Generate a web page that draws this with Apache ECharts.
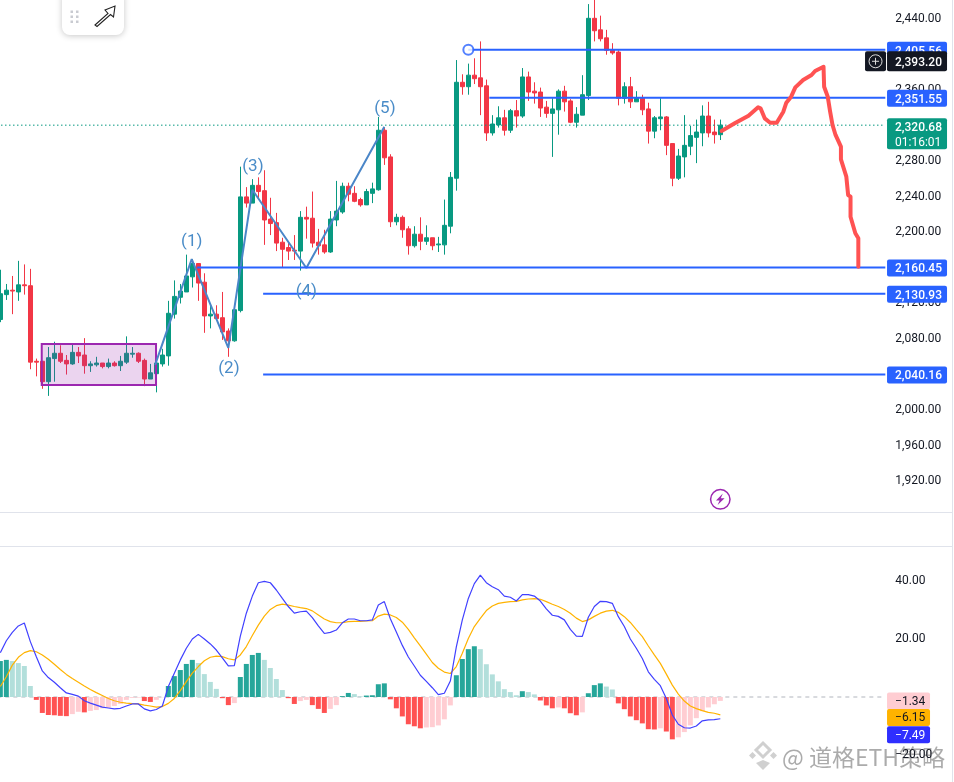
<!DOCTYPE html>
<html>
<head>
<meta charset="utf-8">
<style>html,body{margin:0;padding:0;background:#fff}#c{width:954px;height:782px}</style>
<script src="https://cdn.jsdelivr.net/npm/echarts@6/dist/echarts.min.js"></script>
</head>
<body>
<div id="c"></div>
<script>
const slots = 148;
const opens = [2102,2130,2135,2133,2141,2140,2055,2055,2032,2058,
2064,2056,2052,2065,2062,2050,2051,2053,2049,2053,
2050,2054,2063,2064,2056,2035,2041,2052,2061,2108,
2127,2133,2150,2165,2144,2106,2108,2104,2089,2078,
2112,2240,2233,2253,2247,2215,2211,2189,2183,2180,
2179,2217,2216,2189,2186,2178,2214,2223,2252,2244,
2237,2231,2244,2248,2315,2285,2212,2217,2204,2185,
2198,2190,2194,2186,2186,2207,2261,2369,2364,2377,
2374,2365,2312,2321,2329,2315,2337,2331,2375,2359,
2358,2341,2334,2338,2359,2348,2324,2332,2354,2441,
2428,2419,2405,2403,2351,2364,2347,2351,2339,2314,
2328,2330,2300,2261,2285,2297,2307,2312,2331,2313,2310];
const closes = [2131,2135,2134,2141,2140,2054,2054,2032,2059,2064,
2055,2052,2065,2061,2050,2052,2053,2049,2053,2050,
2055,2064,2064,2055,2035,2042,2053,2062,2109,2128,
2134,2151,2165,2143,2106,2108,2103,2088,2078,2113,
2240,2233,2253,2246,2214,2210,2188,2181,2179,2179,
2217,2215,2188,2185,2178,2215,2224,2252,2243,2235,
2231,2246,2249,2315,2284,2212,2217,2203,2185,2198,
2190,2194,2185,2187,2208,2262,2369,2364,2377,2373,
2364,2312,2322,2329,2315,2337,2331,2375,2358,2357,
2340,2334,2339,2359,2347,2324,2333,2355,2441,2427,
2418,2405,2402,2351,2364,2347,2351,2338,2314,2329,
2330,2298,2261,2286,2298,2309,2313,2331,2312,2310,2320.68];
const lows = [2099,2124,2108,2123,2130,2046,2038,2024,2016,2032,
2053,2040,2051,2053,2041,2043,2049,2047,2047,2049,
2044,2052,2059,2053,2027,2035,2020,2049,2050,2103,
2120,2133,2138,2123,2087,2092,2102,2079,2060,2077,
2110,2228,2233,2237,2186,2197,2179,2161,2169,2169,
2157,2193,2183,2175,2176,2177,2207,2221,2235,2234,
2229,2231,2233,2247,2276,2206,2208,2194,2175,2183,
2180,2186,2180,2178,2175,2199,2247,2355,2355,2367,
2332,2303,2309,2318,2309,2312,2318,2329,2348,2345,
2330,2329,2285,2310,2336,2323,2318,2332,2349,2415,
2415,2400,2400,2343,2345,2340,2347,2332,2300,2306,
2315,2287,2252,2259,2262,2287,2278,2297,2307,2300,2304];
const highs = [2158,2142,2151,2168,2164,2159,2058,2055,2071,2077,
2073,2062,2074,2071,2081,2055,2060,2053,2058,2055,
2061,2083,2071,2065,2058,2052,2068,2069,2123,2146,
2142,2175,2170,2165,2154,2118,2118,2133,2092,2113,
2274,2251,2260,2262,2270,2239,2222,2194,2188,2197,
2224,2229,2246,2204,2203,2224,2258,2256,2256,2252,
2239,2249,2256,2330,2318,2288,2221,2219,2207,2207,
2217,2208,2194,2195,2237,2268,2394,2378,2390,2396,
2415,2372,2332,2342,2338,2339,2349,2385,2381,2369,
2363,2348,2351,2361,2365,2350,2341,2377,2457,2466,
2444,2428,2413,2405,2369,2375,2359,2355,2346,2331,
2351,2331,2300,2294,2332,2320,2327,2343,2347,2327,2327];

const histogram = [12.4,12.8,12.4,11.7,10.7,3.8,-1.0,-5.5,-6.2,-6.3,
-6.5,-6.6,-5.9,-5.1,-5.3,-4.8,-4.5,-3.9,-3.7,-3.1,
-2.4,-1.0,-0.3,-0.2,-1.4,-1.7,-1.0,-0.1,3.8,7.2,
9.3,11.4,12.8,11.7,7.9,5.2,2.8,-0.4,-2.8,-2.1,
6.9,11.4,14.5,15.2,12.8,10.0,6.2,2.4,-0.4,-2.4,
-1.4,-1.0,-2.8,-4.1,-5.5,-4.1,-2.8,0.3,1.4,1.0,
0.2,0.5,0.6,4.4,4.7,-0.8,-3.9,-6.7,-9.4,-10.1,
-10.8,-10.5,-10.4,-9.8,-7.7,-2.9,7.5,13.1,16.5,17.5,
16.5,11.3,7.8,5.4,2.7,1.7,0.6,2.0,1.7,0.9,
-1.2,-2.9,-3.9,-3.6,-3.9,-5.6,-6.3,-5.3,1.3,4.1,
4.7,3.6,2.6,-2.2,-4.2,-6.7,-8.0,-9.1,-11.1,-11.2,
-10.8,-11.9,-14.6,-13.9,-12.1,-9.8,-7.3,-4.9,-3.6,-2.5,-1.34];
const macd = [15.3,19.4,22.3,24.5,25.5,19.1,13.9,9.0,6.7,5.1,
3.2,1.4,0.9,0.3,-1.3,-2.1,-2.8,-3.5,-3.8,-4.1,
-3.9,-3.1,-2.4,-2.4,-4.1,-4.8,-4.3,-3.1,3.6,8.2,
12.8,16.8,20.0,21.6,20.0,18.3,16.2,13.5,10.7,10.8,
21.0,28.9,34.8,39.4,39.9,39.4,36.9,34.0,31.2,28.9,
29.4,29.6,27.4,24.5,21.9,22.3,23.1,25.6,26.9,26.9,
26.3,26.3,26.6,31.7,32.9,27.0,22.4,17.8,13.8,10.7,
7.5,5.4,3.2,0.8,1.3,5.5,17.3,26.6,34.0,39.1,
42.0,39.4,38.0,37.0,34.8,34.4,33.1,35.3,35.3,34.8,
33.1,30.4,28.2,27.8,26.6,23.3,21.0,20.9,27.5,31.2,
33.0,32.9,32.3,27.7,24.3,20.0,16.8,13.3,8.7,6.1,
3.9,-0.5,-6.2,-9.4,-10.6,-10.7,-10.0,-8.2,-7.9,-7.8,-7.49];
const signal = [3.6,7.0,11.0,13.7,15.3,16.0,15.6,14.5,13.0,11.3,
9.5,7.8,6.4,5.1,3.8,2.6,1.5,0.5,-0.5,-1.3,
-1.8,-2.1,-2.3,-2.4,-2.8,-3.1,-3.5,-3.3,-2.2,-0.5,
2.2,5.3,8.2,10.5,12.5,13.7,14.1,13.9,13.2,12.8,
14.5,17.4,21.2,24.8,27.9,30.2,31.5,32.0,31.7,31.2,
30.8,30.5,29.7,28.3,26.9,26.0,25.6,25.6,26.0,26.1,
26.1,26.2,26.3,27.9,28.6,28.3,27.4,25.8,23.3,20.4,
17.6,14.8,11.9,9.9,8.6,8.1,10.5,15.1,20.2,24.3,
27.1,29.8,31.4,32.3,32.6,32.9,33.0,33.5,33.8,33.9,
33.7,32.9,32.0,31.2,30.2,28.9,27.2,26.0,26.6,27.8,
28.9,29.6,29.9,29.2,27.7,25.7,23.2,20.8,17.6,14.5,
11.6,7.9,4.1,1.0,-1.4,-3.1,-4.0,-4.7,-5.3,-5.6,-6.15];

const priceTicks = [2440,2400,2360,2320,2280,2240,2200,2160,2120,2080,2040,2000,1960,1920];
const macdTicks = [40,20,-20];
const levels = [2405.56,2351.55,2160.45,2130.93,2040.16];
const levelStarts = [78,81.5,32.8,43.8,43.8];
const lastPrice = 2320.68;
const countdown = '01:16:01';
const crosshairPrice = 2393.20;
const waveBars = [25.8,31.9,38,42,51,64];
const wavePrices = [2051,2170,2070,2248,2160,2319];
const waveNames = ['(1)','(2)','(3)','(4)','(5)'];
const waveNameBars = [31.9,38.1,42.1,51,64.1];
const waveNamePrices = [2190,2046,2273.5,2133.5,2339.7];
const boxBars = [6.9,25.95];
const boxPrices = [2074.4,2028.3];
const forecastBars = [120.2,122.4,124.7,126.3,126.7,127.4,128.3,129.4,130.5,131,131.8,132.5,133.8,135.2,135.8,137.2,137.3,137.9,138.3,138.7,139.2,140.1,140.1,141,141.3,141.7,141.7,142.5,143,143];
const forecastPrices = [2314.2,2322.8,2331.4,2340.8,2339.7,2328.4,2323.5,2323.5,2335.9,2346,2352.8,2363.3,2371.6,2377.2,2381.7,2386.5,2364,2352.8,2335.9,2320.9,2309.7,2296.5,2282.3,2262.7,2242.1,2240.2,2217.7,2199,2193.4,2161.4];
const macdTagTexts = ['\u22121.34','\u22126.15','\u22127.49'];
const macdTagAnchors = [-1.34,-7.07,-13.0];

const FONT = 'Roboto, sans-serif';
const GREEN = '#089981', RED = '#F23645', BLUE = '#2962FF';
const cats = Array.from({length: slots}, (_, i) => String(i));
const fmt = v => v.toLocaleString('en-US', {minimumFractionDigits: 2, maximumFractionDigits: 2});
const histColor = (v, i) => {
  const prev = i ? histogram[i - 1] : -Infinity;
  return v >= 0 ? (v > prev ? '#26A69A' : '#B2DFDB') : (v < prev ? '#FF5252' : '#FFCDD2');
};

const ohlc = opens.map((o, i) => [o, closes[i], lows[i], highs[i]]);
const mainOverlay = {xAxisIndex: 1, yAxisIndex: 0};
const subOverlay = {xAxisIndex: 3, yAxisIndex: 1};
const END = slots - 0.5;

function lineSeries(points, color, width, extra) {
  return Object.assign({type: 'line', data: points, symbol: 'none', silent: true, z: 5,
    lineStyle: {color, width}}, mainOverlay, extra || {});
}

function tagShape(x, y, w, h, fill) {
  return {type: 'rect', shape: {x, y, width: w, height: h, r: 2}, style: {fill}};
}
function tagText(text, x, y, fill, weight) {
  return {type: 'text', style: {text, x, y: y + 1.3, fill, font: (weight || 500) + ' 12px ' + FONT, textAlign: 'left', textVerticalAlign: 'middle'}};
}

const series = [
  {type: 'candlestick', data: ohlc, xAxisIndex: 0, yAxisIndex: 0, barWidth: 4, z: 2, silent: true,
   itemStyle: {color: GREEN, color0: RED, borderColor: GREEN, borderColor0: RED, borderWidth: 1}},
  lineSeries([[-0.5, lastPrice], [END, lastPrice]], GREEN, 1, {lineStyle: {color: GREEN, width: 1.4, type: [1, 3]}, z: 3}),
  lineSeries([], '#000', 0, {markArea: {silent: true, z: 4, itemStyle: {color: 'rgba(156,39,176,0.2)', borderColor: '#9C27B0', borderWidth: 2},
    data: [[{xAxis: boxBars[0], yAxis: boxPrices[0]}, {xAxis: boxBars[1], yAxis: boxPrices[1]}]]}}),
  lineSeries(waveBars.map((x, i) => [x, wavePrices[i]]), '#4A86C8', 2),
];
levels.forEach((v, i) => series.push(lineSeries([[levelStarts[i], v], [END, v]], BLUE, 2, {z: 6})));
series.push(lineSeries(forecastBars.map((x, i) => [x, forecastPrices[i]]), '#FF5252', 4, {z: 7, lineStyle: {color: '#FF5252', width: 4, cap: 'round', join: 'round'}}));
series.push({type: 'scatter', data: [[levelStarts[0], levels[0]]], symbol: 'circle', symbolSize: 10, z: 8, silent: true,
  itemStyle: {color: '#fff', borderColor: BLUE, borderWidth: 2}, xAxisIndex: 1, yAxisIndex: 0});
series.push({type: 'custom', xAxisIndex: 1, yAxisIndex: 0, z: 8, silent: true, encode: {x: 0, y: 1},
  data: waveNames.map((n, i) => [waveNameBars[i], waveNamePrices[i], i]),
  renderItem(p, api) {
    const c = api.coord([api.value(0), api.value(1)]);
    return {type: 'text', style: {text: waveNames[api.value(2)], x: c[0], y: c[1], fill: '#4A8CC8', font: '17px ' + FONT, textAlign: 'center', textVerticalAlign: 'middle'}};
  }});
// price scale tags
series.push({type: 'custom', xAxisIndex: 1, yAxisIndex: 0, z: 20, silent: true, clip: false, encode: {x: 0, y: 1},
  data: levels.map(v => [END, v, 0]).concat([[END, lastPrice, 1], [END, crosshairPrice, 2]]),
  renderItem(p, api) {
    const v = api.value(1), kind = api.value(2), c = api.coord([END, v]);
    const x = c[0] + 1.7, y = c[1] + 0.5;
    if (kind === 0) return {type: 'group', children: [tagShape(x, y - 8.5, 60, 17, BLUE), tagText(fmt(v), x + 8, y, '#fff')]};
    if (kind === 1) return {type: 'group', children: [tagShape(x, y - 7.5, 60, 31, GREEN), tagText(fmt(v), x + 8, y + 0.5, '#fff'), tagText(countdown, x + 8, y + 15.5, '#fff', 400)]};
    return {type: 'group', children: [
      tagShape(x - 22, y - 10, 21, 20, '#131722'),
      {type: 'circle', shape: {cx: x - 11.5, cy: y, r: 6.5}, style: {fill: 'none', stroke: '#ddd', lineWidth: 1}},
      {type: 'line', shape: {x1: x - 15, y1: y, x2: x - 8, y2: y}, style: {stroke: '#ddd', lineWidth: 1}},
      {type: 'line', shape: {x1: x - 11.5, y1: y - 3.5, x2: x - 11.5, y2: y + 3.5}, style: {stroke: '#ddd', lineWidth: 1}},
      tagShape(x, y - 10, 60, 20, '#131722'),
      tagText(fmt(v), x + 8, y, '#fff')]};
  }});
// MACD pane
series.push({type: 'bar', data: histogram.map((v, i) => ({value: v, itemStyle: {color: histColor(v, i)}})), xAxisIndex: 2, yAxisIndex: 1, barWidth: 5, z: 2, silent: true});
series.push({type: 'line', data: [[-0.5, 0], [END, 0]], symbol: 'none', silent: true, z: 1, lineStyle: {color: '#B2B5BE', width: 1, type: [4, 4]}, ...subOverlay});
series.push({type: 'line', data: macd, xAxisIndex: 2, yAxisIndex: 1, symbol: 'none', silent: true, z: 4, lineStyle: {color: '#4040FF', width: 1.2}});
series.push({type: 'line', data: signal, xAxisIndex: 2, yAxisIndex: 1, symbol: 'none', silent: true, z: 3, lineStyle: {color: '#FFB300', width: 1.2}});
series.push({type: 'custom', xAxisIndex: 3, yAxisIndex: 1, z: 20, silent: true, clip: false, encode: {x: 0, y: 1},
  data: macdTagAnchors.map((a, i) => [END, a, i]),
  renderItem(p, api) {
    const i = api.value(2), c = api.coord([END, api.value(1)]);
    const x = c[0] + 1.7, y = c[1];
    const bg = ['#FFCDD2', '#FFB300', '#2F2FFF'][i], fg = ['#131722', '#131722', '#fff'][i];
    return {type: 'group', children: [tagShape(x, y - 8.5, 43, 17, bg), tagText(macdTagTexts[i], x + 8, y - 0.5, fg, 400)]};
  }});

const hiddenAxis = {show: false};
const option = {
  backgroundColor: '#fff',
  animation: false,
  textStyle: {fontFamily: FONT},
  grid: [
    {left: -2.67, top: 0, width: 888, height: 513, outerBoundsMode: 'none'},
    {left: -2.67, top: 546, width: 888, height: 236, outerBoundsMode: 'none'}
  ],
  xAxis: [
    {type: 'category', gridIndex: 0, data: cats, ...hiddenAxis},
    {type: 'value', gridIndex: 0, min: -0.5, max: END, ...hiddenAxis},
    {type: 'category', gridIndex: 1, data: cats, ...hiddenAxis},
    {type: 'value', gridIndex: 1, min: -0.5, max: END, ...hiddenAxis}
  ],
  yAxis: [
    {type: 'value', gridIndex: 0, position: 'right', min: 1884.2, max: 2461.6, scale: true,
     axisLine: {show: false}, axisTick: {show: false}, splitLine: {show: false},
     axisLabel: {customValues: priceTicks, margin: 10, color: '#131722', fontSize: 12, fontFamily: FONT, padding: [4, 0, 0, 0], formatter: v => fmt(v)}},
    {type: 'value', gridIndex: 1, position: 'right', min: -29.31, max: 52.07, scale: true,
     axisLine: {show: false}, axisTick: {show: false}, splitLine: {show: false},
     axisLabel: {customValues: macdTicks, margin: 10, color: '#131722', fontSize: 12, fontFamily: FONT, padding: [4, 0, 0, 0], formatter: v => fmt(v).replace('-', '\u2212')}}
  ],
  series,
  graphic: [
    {type: 'line', z: 30, shape: {x1: 0, y1: 512.5, x2: 952, y2: 512.5}, style: {stroke: '#E0E3EB', lineWidth: 1}},
    {type: 'line', z: 30, shape: {x1: 0, y1: 546.5, x2: 952, y2: 546.5}, style: {stroke: '#E0E3EB', lineWidth: 1}},
    {type: 'line', z: 30, shape: {x1: 952.5, y1: 0, x2: 952.5, y2: 782}, style: {stroke: '#E0E3EB', lineWidth: 1}},
    // drawing toolbar
    {type: 'rect', z: 40, shape: {x: 62, y: -10, width: 62, height: 45, r: 8}, style: {fill: '#fff', shadowBlur: 6, shadowColor: 'rgba(0,0,0,0.22)', shadowOffsetY: 1}},
    ...[[70.5,10.5],[76,10.5],[70.5,15.5],[76,15.5],[70.5,20.5],[76,20.5]].map(p => ({type: 'rect', z: 41, shape: {x: p[0], y: p[1], width: 2.5, height: 2.5}, style: {fill: '#C9CBD1'}})),
    {type: 'polygon', z: 41, shape: {points: [[95,25],[108,13.5],[105,10],[115,6],[113.5,17],[110.5,14.5],[97,26.5]]}, style: {fill: '#fff', stroke: '#222', lineWidth: 1.1}},
    // lightning badge
    {type: 'circle', z: 41, shape: {cx: 720.3, cy: 499.3, r: 9.7}, style: {fill: '#fff', stroke: '#9C27B0', lineWidth: 1.5}},
    {type: 'polygon', z: 42, shape: {points: [[722.8,493.5],[716,500.5],[719.6,500.5],[717.6,505],[724.6,498.2],[720.8,498.2]]}, style: {fill: '#9C27B0'}},
    // watermark
    {type: 'group', z: 50, children: [
      {type: 'polygon', shape: {points: [[763,743],[770,750],[763,757],[756,750]]}, style: {fill: 'none', stroke: 'rgba(170,170,170,0.55)', lineWidth: 3}},
      {type: 'polygon', shape: {points: [[752.5,752],[756,755.5],[752.5,759],[749,755.5]]}, style: {fill: 'rgba(170,170,170,0.55)'}},
      {type: 'polygon', shape: {points: [[773.5,752],[777,755.5],[773.5,759],[770,755.5]]}, style: {fill: 'rgba(170,170,170,0.55)'}},
      {type: 'polygon', shape: {points: [[763,760],[770,763],[763,770],[756,763]]}, style: {fill: 'rgba(170,170,170,0.55)'}},
      {type: 'text', style: {text: '@ 道格ETH策略', x: 782, y: 757, fill: 'rgba(120,120,120,0.62)', font: '23px "Noto Sans CJK SC", ' + FONT, textAlign: 'left', textVerticalAlign: 'middle', stroke: 'rgba(255,255,255,0.5)', lineWidth: 2}}
    ]}
  ]
};
const chart = echarts.init(document.getElementById('c'), null, {renderer: 'canvas'});
chart.setOption(option);
</script>
</body>
</html>
